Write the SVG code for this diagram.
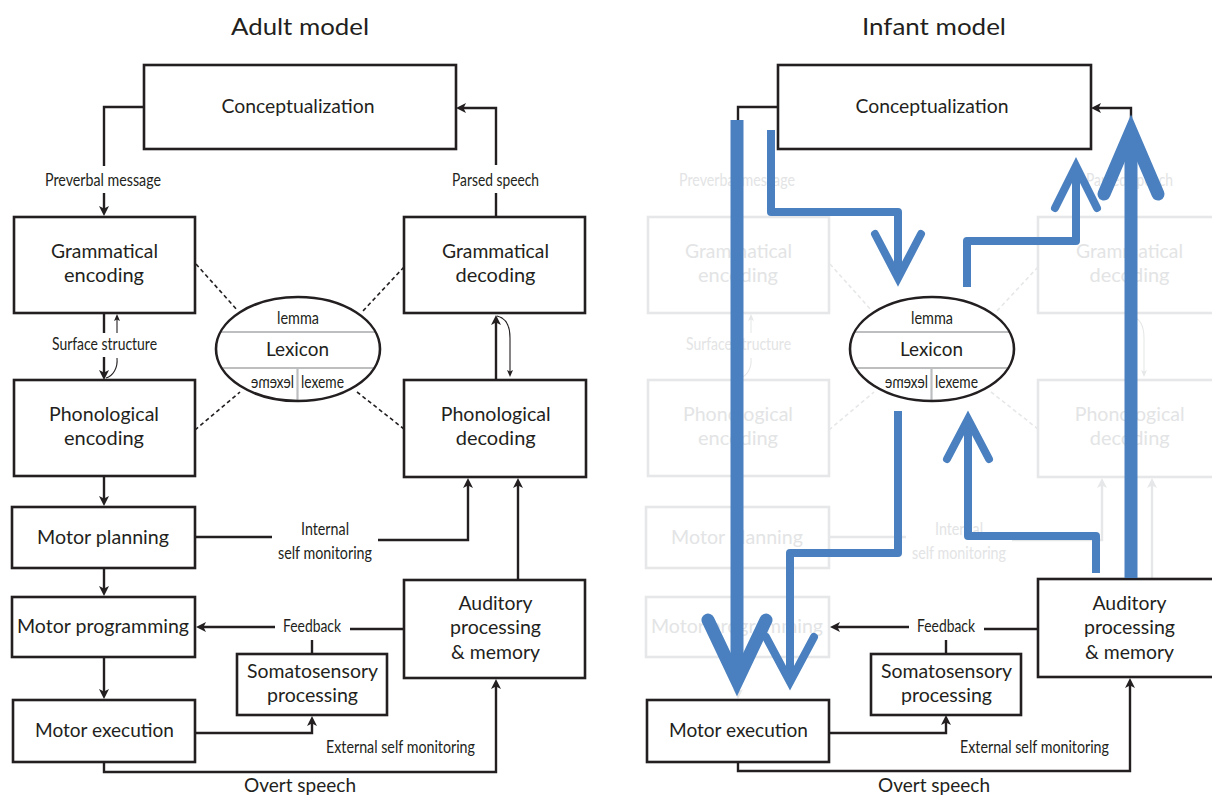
<svg xmlns="http://www.w3.org/2000/svg" width="1212" height="796" viewBox="0 0 1212 796">
<style>
.t{font-family:Lato,"Open Sans",sans-serif;font-size:19px;text-anchor:middle;fill:#231f20}
.c{font-size:16.5px}
.lx{font-size:18.5px}
.ttl{font-size:24px}
.f{fill:#e3e4e5}
.box{fill:#fff;stroke:#231f20;stroke-width:2.6}
.fbox{fill:#fff;stroke:#e6e7e8;stroke-width:2.6}
.ln{fill:none;stroke:#231f20;stroke-width:2.4}
.fln{fill:none;stroke:#e6e7e8;stroke-width:2.4}
.thin{fill:none;stroke:#231f20;stroke-width:1.1}
.fthin{fill:none;stroke:#e6e7e8;stroke-width:1.1}
.dash{fill:none;stroke:#231f20;stroke-width:1.6;stroke-dasharray:4 3}
.fdash{fill:none;stroke:#e6e7e8;stroke-width:1.6;stroke-dasharray:4 3}
.gl{stroke:#bcbec0;stroke-width:2.2}
.ell{fill:none;stroke:#231f20;stroke-width:2.6}
.bs{fill:none;stroke:#4a80bf;stroke-linejoin:round;stroke-linecap:butt}
.bh{fill:none;stroke:#4a80bf;stroke-linejoin:miter;stroke-linecap:round}
</style>
<defs>
<marker id="ah" markerUnits="userSpaceOnUse" markerWidth="14" markerHeight="14" viewBox="-8 -7 14 14" refX="0" refY="0" orient="auto"><path d="M4,0 L-6,-5 L-3.5,0 L-6,5 Z" fill="#231f20"/></marker>
<marker id="fah" markerUnits="userSpaceOnUse" markerWidth="14" markerHeight="14" viewBox="-8 -7 14 14" refX="0" refY="0" orient="auto"><path d="M4,0 L-6,-5 L-3.5,0 L-6,5 Z" fill="#e6e7e8"/></marker>
<marker id="sah" markerUnits="userSpaceOnUse" markerWidth="10" markerHeight="10" viewBox="-5 -5 10 10" refX="0" refY="0" orient="auto"><path d="M3,0 L-4,-3 L-2.5,0 L-4,3 Z" fill="#231f20"/></marker>
<marker id="fsah" markerUnits="userSpaceOnUse" markerWidth="10" markerHeight="10" viewBox="-5 -5 10 10" refX="0" refY="0" orient="auto"><path d="M3,0 L-4,-3 L-2.5,0 L-4,3 Z" fill="#e6e7e8"/></marker>
</defs>
<rect width="1212" height="796" fill="#fff"/>

<!-- ===== Adult model ===== -->
<text id="title-adult" class="t ttl" x="300" y="35" textLength="138" lengthAdjust="spacingAndGlyphs">Adult model</text>

<g id="a-connectors">
<path class="ln" d="M144,107 H104 V166"/>
<path class="ln" d="M104,193 V212" marker-end="url(#ah)"/>
<path class="ln" d="M496,218 V193"/>
<path class="ln" d="M496,165 V108 H460" marker-end="url(#ah)"/>
<path class="ln" d="M104,313 V333"/>
<path class="ln" d="M104,357 V376" marker-end="url(#ah)"/>
<path class="thin" d="M117,333 V317" marker-end="url(#sah)"/>
<path class="thin" d="M117,358 C118,368 113,376 106,378"/>
<path class="ln" d="M104,476 V502" marker-end="url(#ah)"/>
<path class="ln" d="M104,568 V592" marker-end="url(#ah)"/>
<path class="ln" d="M104,657 V695" marker-end="url(#ah)"/>
<path class="ln" d="M195,537 H272"/>
<path class="ln" d="M378,540 H468 V482" marker-end="url(#ah)"/>
<path class="ln" d="M518,580 V482" marker-end="url(#ah)"/>
<path class="ln" d="M496,380 V319" marker-end="url(#ah)"/>
<path class="thin" d="M497,316 C506,318 510,326 510,338 V374" marker-end="url(#sah)"/>
<path class="ln" d="M404,629 H350"/>
<path class="ln" d="M275,627 H200" marker-end="url(#ah)"/>
<path class="ln" d="M312,640 V654"/>
<path class="ln" d="M195,733 H312 V720" marker-end="url(#ah)"/>
<path class="ln" d="M104,762 V772 H496 V683" marker-end="url(#ah)"/>
<path class="dash" d="M196,264 L238,311"/>
<path class="dash" d="M404,267 L362,312"/>
<path class="dash" d="M195,430 L240,392"/>
<path class="dash" d="M357,392 L404,429"/>
<text class="t c" x="103" y="186" textLength="116" lengthAdjust="spacingAndGlyphs">Preverbal message</text>
<text class="t c" x="495.5" y="186" textLength="87" lengthAdjust="spacingAndGlyphs">Parsed speech</text>
<text class="t c" x="104.5" y="350" textLength="105" lengthAdjust="spacingAndGlyphs">Surface structure</text>
<text class="t c" x="325" y="535" textLength="48" lengthAdjust="spacingAndGlyphs">Internal</text>
<text class="t c" x="325" y="559" textLength="94" lengthAdjust="spacingAndGlyphs">self monitoring</text>
<text class="t c" x="312" y="632" textLength="58" lengthAdjust="spacingAndGlyphs">Feedback</text>
<text class="t c" x="400.5" y="753" textLength="149" lengthAdjust="spacingAndGlyphs">External self monitoring</text>
<text class="t lx" x="300" y="792" textLength="112" lengthAdjust="spacingAndGlyphs">Overt speech</text>
</g>

<g id="a-concept"><rect class="box" x="144" y="65" width="312" height="84"/>
<text class="t" x="298" y="113" textLength="153" lengthAdjust="spacingAndGlyphs">Conceptualization</text></g>
<g id="a-gram-enc"><rect class="box" x="14" y="217" width="181" height="96"/>
<text class="t" x="104.5" y="258" textLength="107" lengthAdjust="spacingAndGlyphs">Grammatical</text>
<text class="t" x="104" y="282" textLength="80" lengthAdjust="spacingAndGlyphs">encoding</text></g>
<g id="a-gram-dec"><rect class="box" x="404" y="217" width="181" height="96"/>
<text class="t" x="495.5" y="258" textLength="107" lengthAdjust="spacingAndGlyphs">Grammatical</text>
<text class="t" x="495.5" y="282" textLength="80" lengthAdjust="spacingAndGlyphs">decoding</text></g>
<g id="a-phon-enc"><rect class="box" x="14" y="380" width="181" height="96"/>
<text class="t" x="104" y="421" textLength="110" lengthAdjust="spacingAndGlyphs">Phonological</text>
<text class="t" x="104" y="445" textLength="80" lengthAdjust="spacingAndGlyphs">encoding</text></g>
<g id="a-phon-dec"><rect class="box" x="404" y="380" width="182" height="97"/>
<text class="t" x="495.7" y="421" textLength="110" lengthAdjust="spacingAndGlyphs">Phonological</text>
<text class="t" x="495.7" y="445" textLength="80" lengthAdjust="spacingAndGlyphs">decoding</text></g>
<g id="a-lexicon">
<ellipse cx="298" cy="349" rx="82" ry="52" fill="#fff"/>
<line class="gl" x1="220" y1="332" x2="376" y2="332"/>
<line class="gl" x1="221" y1="368" x2="375" y2="368"/>
<line class="gl" x1="297.5" y1="368" x2="297.5" y2="401"/>
<ellipse class="ell" cx="298" cy="349" rx="82" ry="52"/>
<text class="t c" x="298" y="324" textLength="42" lengthAdjust="spacingAndGlyphs">lemma</text>
<text class="t lx" x="297.5" y="356" textLength="63" lengthAdjust="spacingAndGlyphs">Lexicon</text>
<text class="t c" x="322.5" y="388" textLength="43" lengthAdjust="spacingAndGlyphs">lexeme</text>
<text class="t c" x="-272.5" y="388" transform="scale(-1,1)" textLength="43" lengthAdjust="spacingAndGlyphs">lexeme</text>
</g>
<g id="a-motor-plan"><rect class="box" x="12" y="507" width="183" height="61"/>
<text class="t" x="103" y="544" textLength="132" lengthAdjust="spacingAndGlyphs">Motor planning</text></g>
<g id="a-motor-prog"><rect class="box" x="12" y="597" width="183" height="60"/>
<text class="t" x="103" y="633" textLength="172" lengthAdjust="spacingAndGlyphs">Motor programming</text></g>
<g id="a-motor-exec"><rect class="box" x="13" y="700" width="182" height="62"/>
<text class="t" x="104.5" y="737" textLength="139" lengthAdjust="spacingAndGlyphs">Motor execution</text></g>
<g id="a-soma"><rect class="box" x="237" y="654" width="150" height="61"/>
<text class="t" x="312.5" y="678" textLength="131" lengthAdjust="spacingAndGlyphs">Somatosensory</text>
<text class="t" x="312.5" y="702" textLength="91" lengthAdjust="spacingAndGlyphs">processing</text></g>
<g id="a-auditory"><rect class="box" x="404" y="580" width="181" height="98"/>
<text class="t" x="495.5" y="610" textLength="74" lengthAdjust="spacingAndGlyphs">Auditory</text>
<text class="t" x="495.5" y="634" textLength="91" lengthAdjust="spacingAndGlyphs">processing</text>
<text class="t" x="495.5" y="659" textLength="89" lengthAdjust="spacingAndGlyphs">&amp; memory</text></g>

<!-- ===== Infant model ===== -->
<text id="title-infant" class="t ttl" x="934" y="35" textLength="144" lengthAdjust="spacingAndGlyphs">Infant model</text>

<g id="i-faded-connectors">
<path class="fln" d="M738,121 V166"/>
<path class="fln" d="M738,193 V212" marker-end="url(#fah)"/>
<path class="fln" d="M1130,218 V193"/>
<path class="fln" d="M1130,165 V118"/>
<path class="fln" d="M738,313 V333"/>
<path class="fln" d="M738,357 V376" marker-end="url(#fah)"/>
<path class="fthin" d="M751,333 V317" marker-end="url(#fsah)"/>
<path class="fthin" d="M751,358 C752,368 747,376 740,378"/>
<path class="fln" d="M738,476 V502" marker-end="url(#fah)"/>
<path class="fln" d="M738,568 V592" marker-end="url(#fah)"/>
<path class="fln" d="M738,657 V695" marker-end="url(#fah)"/>
<path class="fln" d="M829,537 H906"/>
<path class="fln" d="M1012,540 H1102 V482" marker-end="url(#fah)"/>
<path class="fln" d="M1152,578 V482" marker-end="url(#fah)"/>
<path class="fln" d="M1130,380 V319" marker-end="url(#fah)"/>
<path class="fthin" d="M1131,316 C1140,318 1144,326 1144,338 V374" marker-end="url(#fsah)"/>
<path class="fdash" d="M830,264 L872,311"/>
<path class="fdash" d="M1038,267 L996,312"/>
<path class="fdash" d="M829,430 L874,392"/>
<path class="fdash" d="M991,392 L1038,429"/>
<text class="t c f" x="737" y="186" textLength="116" lengthAdjust="spacingAndGlyphs">Preverbal message</text>
<text class="t c f" x="1129.5" y="186" textLength="87" lengthAdjust="spacingAndGlyphs">Parsed speech</text>
<text class="t c f" x="738.5" y="350" textLength="105" lengthAdjust="spacingAndGlyphs">Surface structure</text>
<text class="t c f" x="959" y="535" textLength="48" lengthAdjust="spacingAndGlyphs">Internal</text>
<text class="t c f" x="959" y="559" textLength="94" lengthAdjust="spacingAndGlyphs">self monitoring</text>
</g>

<g id="i-gram-enc"><rect class="fbox" x="648" y="217" width="181" height="96"/>
<text class="t f" x="738.5" y="258" textLength="107" lengthAdjust="spacingAndGlyphs">Grammatical</text>
<text class="t f" x="738" y="282" textLength="80" lengthAdjust="spacingAndGlyphs">encoding</text></g>
<g id="i-gram-dec"><rect class="fbox" x="1038" y="217" width="181" height="96"/>
<text class="t f" x="1129.5" y="258" textLength="107" lengthAdjust="spacingAndGlyphs">Grammatical</text>
<text class="t f" x="1129.5" y="282" textLength="80" lengthAdjust="spacingAndGlyphs">decoding</text></g>
<g id="i-phon-enc"><rect class="fbox" x="648" y="380" width="181" height="96"/>
<text class="t f" x="738" y="421" textLength="110" lengthAdjust="spacingAndGlyphs">Phonological</text>
<text class="t f" x="738" y="445" textLength="80" lengthAdjust="spacingAndGlyphs">encoding</text></g>
<g id="i-phon-dec"><rect class="fbox" x="1038" y="380" width="182" height="97"/>
<text class="t f" x="1129.7" y="421" textLength="110" lengthAdjust="spacingAndGlyphs">Phonological</text>
<text class="t f" x="1129.7" y="445" textLength="80" lengthAdjust="spacingAndGlyphs">decoding</text></g>
<g id="i-motor-plan"><rect class="fbox" x="646" y="507" width="183" height="61"/>
<text class="t f" x="737" y="544" textLength="132" lengthAdjust="spacingAndGlyphs">Motor planning</text></g>
<g id="i-motor-prog"><rect class="fbox" x="646" y="597" width="183" height="60"/>
<text class="t f" x="737" y="633" textLength="172" lengthAdjust="spacingAndGlyphs">Motor programming</text></g>

<g id="i-connectors">
<path class="ln" d="M777,107 H738 V121"/>
<path class="ln" d="M1131,118 V108 H1095" marker-end="url(#ah)"/>
<path class="ln" d="M1038,629 H984"/>
<path class="ln" d="M909,627 H834" marker-end="url(#ah)"/>
<path class="ln" d="M946,640 V654"/>
<path class="ln" d="M829,733 H946 V719" marker-end="url(#ah)"/>
<path class="ln" d="M738,762 V771 H1130 V682" marker-end="url(#ah)"/>
<text class="t c" x="946" y="632" textLength="58" lengthAdjust="spacingAndGlyphs">Feedback</text>
<text class="t c" x="1034.5" y="753" textLength="149" lengthAdjust="spacingAndGlyphs">External self monitoring</text>
<text class="t lx" x="934" y="792" textLength="112" lengthAdjust="spacingAndGlyphs">Overt speech</text>
</g>

<g id="i-concept"><rect class="box" x="778" y="65" width="313" height="84"/>
<text class="t" x="932" y="113" textLength="153" lengthAdjust="spacingAndGlyphs">Conceptualization</text></g>
<g id="i-lexicon">
<ellipse cx="932" cy="349" rx="82" ry="52" fill="#fff"/>
<line class="gl" x1="854" y1="332" x2="1010" y2="332"/>
<line class="gl" x1="855" y1="368" x2="1009" y2="368"/>
<line class="gl" x1="931.5" y1="368" x2="931.5" y2="401"/>
<ellipse class="ell" cx="932" cy="349" rx="82" ry="52"/>
<text class="t c" x="932" y="324" textLength="42" lengthAdjust="spacingAndGlyphs">lemma</text>
<text class="t lx" x="931.5" y="356" textLength="63" lengthAdjust="spacingAndGlyphs">Lexicon</text>
<text class="t c" x="956.5" y="388" textLength="43" lengthAdjust="spacingAndGlyphs">lexeme</text>
<text class="t c" x="-906.5" y="388" transform="scale(-1,1)" textLength="43" lengthAdjust="spacingAndGlyphs">lexeme</text>
</g>
<g id="i-motor-exec"><rect class="box" x="647" y="700" width="182" height="62"/>
<text class="t" x="738.5" y="737" textLength="139" lengthAdjust="spacingAndGlyphs">Motor execution</text></g>
<g id="i-soma"><rect class="box" x="871" y="654" width="150" height="61"/>
<text class="t" x="946.5" y="678" textLength="131" lengthAdjust="spacingAndGlyphs">Somatosensory</text>
<text class="t" x="946.5" y="702" textLength="91" lengthAdjust="spacingAndGlyphs">processing</text></g>
<g id="i-auditory"><rect class="box" x="1038" y="579" width="181" height="98"/>
<text class="t" x="1129.5" y="610" textLength="74" lengthAdjust="spacingAndGlyphs">Auditory</text>
<text class="t" x="1129.5" y="634" textLength="91" lengthAdjust="spacingAndGlyphs">processing</text>
<text class="t" x="1129.5" y="659" textLength="89" lengthAdjust="spacingAndGlyphs">&amp; memory</text></g>

<g id="i-blue-arrows">
<path class="bs" stroke-width="13" d="M737,120 V681"/>
<polyline class="bh" stroke-width="13" points="708,620 737,681 766,620"/>
<path class="bs" stroke-width="8" d="M771,130 V212 H898 V278"/>
<polyline class="bh" stroke-width="8" points="875,234 898,278 921,234"/>
<path class="bs" stroke-width="8" d="M967,287 V241 H1076 V166"/>
<polyline class="bh" stroke-width="8" points="1055,208 1076,166 1097,208"/>
<path class="bs" stroke-width="13" d="M1131,578 V131"/>
<polyline class="bh" stroke-width="13" points="1104,194 1131,131 1158,194"/>
<path class="bs" stroke-width="8" d="M898,411 V553 H790 V682"/>
<polyline class="bh" stroke-width="8" points="766,637 790,682 814,637"/>
<path class="bs" stroke-width="8" d="M1096,573 V536 H968 V419"/>
<polyline class="bh" stroke-width="8" points="947,459 968,419 989,459"/>
</g>
</svg>
